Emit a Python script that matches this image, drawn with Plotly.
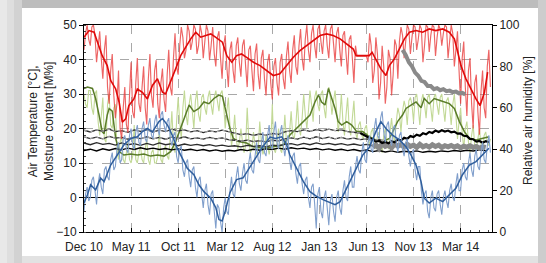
import plotly.graph_objects as go

# ---------------- data (x = days from the "Dec 10" tick) ----------------
tick_days = [0, 150, 300, 450, 600, 750, 900, 1050, 1200]
tick_labels = ["Dec 10", "May 11", "Oct 11", "Mar 12", "Aug 12", "Jan 13", "Jun 13", "Nov 13", "Mar 14"]

grid10 = list(range(0, 1300, 10))
mid10 = list(range(5, 1300, 10))

# relative humidity (right axis) - noisy daily readings
rh_light = [88, 100, 90, 100, 82, 97, 74, 95, 62, 86,
            55, 78, 45, 70, 48, 82, 55, 84, 58, 80,
            52, 86, 60, 83, 55, 79, 58, 88, 66, 96,
            76, 99, 84, 100, 88, 100, 86, 100, 84, 100,
            83, 99, 80, 97, 74, 95, 70, 92, 72, 94,
            75, 93, 70, 90, 68, 91, 69, 88, 66, 86,
            64, 84, 66, 86, 69, 92, 72, 95, 76, 98,
            78, 100, 82, 100, 84, 100, 86, 100, 84, 100,
            82, 99, 80, 97, 76, 95, 72, 85, 85, 85,
            85, 96, 72, 94, 64, 90, 62, 88, 66, 93,
            74, 99, 84, 100, 86, 100, 88, 100, 82, 100,
            87, 100, 85, 100, 90, 100, 84, 100, 80, 97,
            62, 92, 56, 84, 50, 76, 47, 78, 55, 88]
rh_light_mid = [96, 93, 99, 95, 90, 84, 88, 70, 78, 66,
                62, 50, 60, 52, 66, 58, 72, 62, 70, 60,
                74, 66, 78, 62, 72, 64, 76, 70, 84, 80,
                90, 94, 88, 97, 92, 98, 90, 96, 92, 97,
                90, 86, 94, 84, 90, 80, 88, 78, 90, 82,
                90, 80, 88, 78, 86, 76, 84, 74, 82, 72,
                80, 72, 82, 74, 85, 78, 88, 80, 90, 84,
                93, 88, 96, 90, 98, 92, 97, 90, 98, 91,
                96, 88, 95, 86, 93, 84, 90, 85, 85, 85,
                82, 90, 78, 86, 72, 80, 70, 84, 76, 90,
                92, 95, 92, 98, 94, 99, 93, 98, 90, 99,
                95, 99, 94, 98, 96, 99, 92, 96, 88, 78,
                84, 70, 78, 62, 72, 58, 68, 60, 80, 70]

rh_dark_days = [0, 16, 32, 48, 58, 74, 85, 101, 112, 122, 133, 143, 159, 170, 186, 202, 218, 234, 250, 260,
                276, 292, 308, 324, 340, 356, 372, 388, 404, 419, 441,
                455, 471, 486, 502, 518, 540, 561, 582, 603, 624, 646, 667, 688, 709, 731, 752, 773, 794, 816,
                837, 858,
                867, 909, 918, 930, 946, 962, 973, 989, 1005, 1021, 1037, 1058, 1079, 1100, 1121, 1143, 1164,
                1180, 1191, 1201, 1217, 1233, 1249, 1262, 1276, 1286]
rh_dark = [94.1, 97.3, 96.5, 90.1, 85.2, 80.4, 73.2, 69.1, 62.7, 53.1, 54.7, 61.1, 64.3, 69.1, 67.5, 64.3,
           70.8, 74, 67.5, 66.7, 72.4, 78.8, 85.2, 89.2, 93.3, 96.5, 94.1, 94.9, 95.7, 94.1, 91.7,
           85.2, 82, 85.2, 86, 84.4, 82, 80.4, 78, 75.6, 76.4, 80.4, 84.4, 87.6, 90.1, 92.5, 94.9, 95.7,
           94.9, 93.3, 90.9, 88.4,
           85.2, 85.2, 86.8, 83.6, 78.8, 75.6, 80.4, 83.6, 88.4, 93.3, 96.5, 97.3, 96.5, 98.1, 97.3, 98.1,
           96.5, 93.3, 86.8, 80.4, 74, 69.1, 64.3, 61.1, 67.5, 77.2]

rh_gray_days = list(range(1015, 1225, 10))
rh_gray = [88, 85.5, 82, 80, 77, 75.5, 73, 72.5, 70.5, 70.5, 69, 69.5, 68.5, 69, 68, 68.3, 67.5, 67.8,
           67, 67.2, 66.5]

# air temperature (left axis)
temp_light = [-4, 3, 0, 6, -2, 7, 1, 9, 5, 13,
              9, 16, 11, 18, 13, 20, 14, 21, 15, 22,
              16, 23, 17, 24, 18, 25, 19, 23, 15, 19,
              10, 15, 6, 11, 3, 9, 0, 6, -3, 4,
              -5, 2, -9, -3, -10, 0, -5, 6, 0, 9,
              2, 10, 4, 13, 7, 16, 10, 19, 12, 21,
              14, 22, 14, 21, 12, 18, 8, 13, 4, 10,
              1, 6, -3, 4, -9, 3, -6, 2, -8, 1,
              -7, 2, -5, 5, -1, 9, 3, 12, 7, 16,
              10, 18, 13, 23, 17, 25, 16, 22, 15, 21,
              13, 19, 12, 17, 9, 14, 5, 9, -2, 2,
              -6, 2, -4, 2, -5, 2, -3, 4, -1, 7,
              2, 10, 5, 13, 6, 14, 8, 16, 10, 18]
temp_light_mid = [1, -1, 5, 1, 4, 3, 8, 6, 11, 8,
                  14, 10, 17, 14, 18, 15, 19, 16, 20, 17,
                  21, 18, 22, 20, 24, 21, 22, 17, 18, 12,
                  14, 8, 10, 6, 8, 3, 5, 1, 2, -2,
                  1, -4, -2, -7, -3, -4, 2, 1, 6, 4,
                  7, 5, 10, 8, 12, 11, 15, 13, 18, 15,
                  19, 16, 19, 15, 16, 11, 12, 7, 9, 4,
                  5, 0, 3, -2, 1, -4, 0, -3, -1, -4,
                  0, -3, 2, 0, 6, 3, 9, 8, 13, 11,
                  16, 14, 20, 18, 23, 19, 21, 17, 20, 16,
                  18, 14, 16, 12, 13, 8, 9, 2, 1, -4,
                  0, -3, 1, -2, 0, -1, 2, 0, 4, 2,
                  8, 6, 10, 8, 12, 9, 13, 11, 15, 13]

temp_dark_days = [0, 11, 21, 37, 53, 64, 85, 106, 127, 149, 170, 186, 202, 218, 239, 250, 266, 281, 297, 313,
                  329, 350, 366, 382, 404, 420, 430, 440, 449, 465, 486, 507, 529, 550, 570, 593, 610, 630,
                  646, 656, 678, 699, 720, 741, 763, 784, 800, 816, 832, 848, 869, 888, 909, 930, 946, 962,
                  983, 1005, 1026, 1042, 1058, 1074, 1084, 1100, 1121, 1143, 1164, 1185, 1206, 1228, 1249,
                  1270, 1290]
temp_dark = [-1.6, 0.8, 3.7, 2.2, 5.6, 4.6, 9.4, 12.3, 15.2, 17.1, 17.6, 19.1, 20, 19, 22, 22.9, 21, 18.1,
             14.3, 11.4, 8.5, 6.6, 3.7, 1.7, -0.2, -3, -6.4, -6.8, -4.3, 1.4, 5.2, 5.7, 9, 11.9, 14.8, 17.5,
             17.1, 17.6, 15.2, 12.3, 8.5, 4.6, 1.7, 0.3, -0.7, -1.6, -2.1, -1.2, 1.7, 4.6, 8.5, 12.3, 14.5,
             19.1, 22, 20, 18.1, 16.7, 14.7, 12.3, 9.4, 4.6, -0.2, -1.6, -0.2, -1.2, 0.8, 2.7, 6.6, 9.4,
             10.4, 12.3, 14.3]

# green series (left axis)
green_light = [30, 26, 31, 24, 31, 18, 29, 16, 30, 20,
               27, 11, 18, 10, 16, 10, 21, 10, 15, 10,
               17, 9.5, 14, 10, 20, 10, 15, 11, 25, 13,
               29, 17, 31, 21, 30, 20, 31, 22, 30, 24,
               31, 24, 31, 25, 31, 20, 29, 15, 24, 14,
               20, 13, 26, 13, 19, 12.5, 22, 12.5, 18, 12.5,
               27, 13, 20, 13, 24, 15, 25, 17, 28, 18,
               30, 20, 31, 22, 31, 25, 31, 23, 32, 24,
               31, 19, 30, 18, 29, 18, 28, 17, 22, 17,
               21, 15, 20, 14, 19, 13, 20, 14, 23, 16,
               26, 19, 28, 21, 29, 22, 30, 21, 30, 23,
               30, 22, 30, 24, 30, 22, 29, 21, 30, 17,
               26, 14, 22, 13, 21, 13, 20, 14, 19, 15]
green_light_mid = [27, 31, 26, 30, 22, 24, 17, 27, 21, 26,
                   14, 16, 11, 13, 11, 12, 11, 13, 11, 14,
                   11, 13, 10, 12, 11, 14, 12, 18, 15, 22,
                   22, 26, 24, 27, 25, 28, 24, 29, 26, 29,
                   27, 29, 28, 30, 27, 25, 21, 18, 17, 16,
                   16, 15, 17, 14, 15, 14, 16, 14, 15, 15,
                   14, 16, 14, 17, 16, 19, 18, 21, 20, 23,
                   24, 25, 27, 29, 27, 30, 26, 30, 29, 28,
                   25, 23, 22, 24, 20, 23, 19, 21, 18, 20,
                   17, 19, 16, 18, 15, 18, 16, 19, 18, 22,
                   24, 25, 26, 28, 27, 29, 26, 28, 27, 29,
                   26, 29, 27, 29, 26, 28, 26, 27, 24, 22,
                   19, 20, 16, 18, 15, 17, 15, 18, 16, 17]

green_dark_days = [0, 11, 27, 37, 48, 58, 64, 74, 80, 90, 101, 112, 127, 149, 170, 191, 212, 234, 255, 276,
                   292, 308, 324, 335, 350, 366, 382, 398, 414, 430, 441,
                   455, 465, 476, 492, 518, 540, 571, 603, 635, 656, 678, 699, 720, 736, 747, 757, 768, 779,
                   789, 800, 810, 821, 837, 853, 869,
                   888, 909, 930, 952, 973, 989, 999, 1015, 1026, 1042, 1058, 1074, 1084, 1100, 1116, 1132,
                   1148, 1164, 1180, 1196, 1212, 1228, 1249, 1270, 1291]
green_dark = [31.6, 32, 31.6, 28.7, 23.9, 19.1, 18.5, 23.9, 25.8, 25, 17.1, 13.3, 12.3, 12.6, 12.3, 12.6, 12,
              12.3, 12, 13.3, 16.2, 20, 23.9, 26.8, 24.9, 25.8, 27.7, 27.2, 28.7, 29.7, 29.3,
              23.9, 20, 17.1, 16.2, 15.8, 14.7, 14.3, 14.8, 15.2, 18.1, 20, 22, 23.9, 27.7, 29.7, 27.7, 26.8,
              31.6, 28.7, 25.8, 22, 21, 22, 21, 19.1,
              19.1, 17.6, 16.7, 16.2, 17.1, 20, 22, 23.9, 25.8, 26.8, 27.7, 26, 28.7, 27.2, 28.7, 28.2, 27.7,
              27.2, 25.8, 22, 19.1, 17.1, 16.7, 17.1, 17.6]

# moisture content lines (left axis)
mc1_days = list(range(0, 900, 20))
mc1 = [19.5, 19.0, 19.6, 19.2, 19.8, 19.1, 19.4, 18.9, 19.6, 19.2, 19.7, 19.0, 19.5, 19.1, 19.8, 19.3, 19.6,
       19.0, 19.4, 18.8, 19.3, 19.0, 19.5, 19.1, 18.6, 18.2, 18.5, 18.0, 18.4, 18.1, 18.6, 18.3, 19.0, 19.4,
       19.1, 19.6, 19.2, 19.7, 19.3, 19.8, 19.4, 19.6, 19.1, 18.9, 18.7]
mc2_days = list(range(0, 980, 20))
mc2 = [17.6, 17.1, 17.5, 17.0, 17.7, 17.2, 17.4, 16.9, 17.5, 17.1,
       17.6, 17.0, 17.4, 16.9, 17.5, 17.1, 17.6, 17.0, 17.3, 16.9,
       17.4, 17.0, 17.3, 16.8, 16.6, 16.3, 16.6, 16.2, 16.5, 16.1,
       16.6, 16.4, 17.0, 17.3, 16.9, 17.5, 17.0, 17.6, 17.1, 17.5,
       17.0, 17.4, 16.9, 17.2, 16.8, 17.0, 16.6, 16.8, 16.4]
mc3 = [15.8, 15.3, 15.9, 15.4, 15.7, 15.2, 15.8, 15.3, 15.6, 15.1,
       15.7, 15.2, 15.8, 15.3, 15.6, 15.0, 15.5, 15.1, 15.4, 15.0,
       15.3, 14.9, 15.2, 14.8, 15.0, 14.7, 15.1, 14.8, 15.0, 14.7,
       15.2, 15.0, 15.4, 15.6, 15.2, 15.7, 15.3, 15.8, 15.4, 15.7,
       15.3, 15.6, 15.2, 15.5, 15.1, 15.4, 15.0, 15.2, 14.9]
mc4_days = list(range(0, 1300, 20))
mc4 = [13.6, 14.0, 13.5, 14.1, 13.7, 14.2, 13.8, 14.3, 13.9, 14.4,
       14.0, 14.3, 13.9, 14.2, 13.8, 14.1, 13.7, 14.0, 13.6, 13.9,
       13.5, 13.8, 13.4, 13.7, 13.5, 13.9, 13.6, 14.0, 13.7, 14.1,
       13.9, 14.3, 14.0, 14.4, 14.1, 14.3, 13.9, 14.2, 13.8, 14.1,
       13.7, 14.0, 13.6, 13.9, 13.5, 13.8, 13.3, 13.6, 13.2, 13.5,
       13.1, 13.4, 13.2, 13.5, 13.1, 13.4, 13.2, 13.5, 13.3, 13.6,
       13.4, 13.7, 13.5, 13.8, 13.6]
mc5_days = list(range(880, 1300, 10))
mc5 = [18.7, 18.2, 17.9, 17.2, 16.9, 16.3, 16.4, 15.8, 16.1, 15.7, 16.3, 16.0, 16.8, 16.5, 17.3, 17.0,
       17.8, 17.5, 18.2, 17.9, 18.6, 18.3, 19.0, 18.7, 19.4, 19.0, 19.5, 19.1, 19.4, 18.9, 19.1, 18.5,
       18.6, 17.9, 17.8, 17.0, 16.9, 16.2, 16.4, 15.9, 16.3, 16.0]
mc_gray_days = list(range(920, 1290, 10))
mc_gray = [14.5, 15.3, 14.2, 15.6, 14.8, 15.2, 14.4, 15.5, 14.9, 15.3,
           14.6, 15.4, 14.8, 15.2, 14.5, 15.4, 14.7, 15.1, 14.6, 15.3,
           14.8, 15.2, 14.5, 15.0, 14.7, 15.1, 14.6, 15.0, 14.4, 14.9,
           14.6, 15.0, 14.5, 14.8, 14.3, 14.7, 14.5]


def merge(days_a, vals_a, days_b, vals_b):
    pts = sorted(zip(list(days_a) + list(days_b), list(vals_a) + list(vals_b)))
    return [p[0] for p in pts], [p[1] for p in pts]


rh_x, rh_y = merge(grid10, rh_light, mid10, rh_light_mid)
tl_x, tl_y = merge(grid10, temp_light, mid10, temp_light_mid)
gl_x, gl_y = merge(grid10, green_light, mid10, green_light_mid)

# ---------------- figure ----------------
FONT = "Liberation Sans, Arial, sans-serif"
fig = go.Figure()


def add(x, y, color, width, yaxis="y", dash=None):
    fig.add_trace(go.Scatter(x=x, y=y, mode="lines", yaxis=yaxis,
                             line=dict(color=color, width=width, dash=dash),
                             hoverinfo="skip", showlegend=False))


add(gl_x, gl_y, "#c2d996", 1.1)
add(green_dark_days, green_dark, "#5a7c2a", 1.5)
add(mc1_days, mc1, "#2b2b2b", 1.3)
add(mc2_days, mc2, "#2b2b2b", 1.3)
add(mc2_days, mc3, "#2b2b2b", 1.3)
add(mc4_days, mc4, "#000000", 1.4)
add(mc_gray_days, mc_gray, "#8a8a8a", 5)
add(mc5_days, mc5, "#000000", 2.2)
add(mc1_days, mc1, "#d8d8d8", 0.8, dash="dot")
add(mc2_days, mc2, "#d8d8d8", 0.8, dash="dot")
add(tl_x, tl_y, "#809fcc", 1.1)
add(temp_dark_days, temp_dark, "#2f5e9c", 1.5)
add(rh_x, rh_y, "rgba(232,56,56,0.78)", 1.15, yaxis="y2")
add(rh_gray_days, rh_gray, "#8a8a8a", 4, yaxis="y2")
add(rh_dark_days, rh_dark, "#e00a0a", 1.6, yaxis="y2")

L, R, T, B = 84, 492, 25, 232


def px(xp):
    return (xp - L) / (R - L)


def py(yp):
    return (B - yp) / (B - T)


def rect(x0, y0, x1, y1, color):
    return dict(type="rect", xref="paper", yref="paper", x0=px(x0), x1=px(x1), y0=py(y1), y1=py(y0),
                fillcolor=color, line=dict(width=0), layer="below")


shapes = [
    rect(0, 0, 546, 263, "#d8d8d8"),
    rect(0, 0, 7, 263, "#e8e8e8"),
    rect(7, 0, 14, 263, "#dedede"),
    rect(14, 0, 22, 263, "#d2d2d2"),
    rect(22, 0, 546, 8, "#bdbdbd"),
    rect(538, 0, 546, 263, "#cdcdcd"),
    rect(22, 256, 538, 263, "#e2e2e2"),
    rect(22, 8, 538, 256, "#ffffff"),
]

axis_font = dict(family=FONT, size=12, color="#222222")
fig.update_layout(
    width=546, height=263,
    margin=dict(l=L, r=546 - R, t=T, b=263 - B, autoexpand=False),
    paper_bgcolor="#d8d8d8", plot_bgcolor="rgba(0,0,0,0)",
    font=axis_font,
    shapes=shapes,
    xaxis=dict(range=[0, 1300], tickvals=tick_days, ticktext=tick_labels, tickfont=axis_font,
               showgrid=True, gridcolor="#a8a8a8", griddash="dash", gridwidth=1,
               showline=True, linecolor="#000000", linewidth=1, mirror=True,
               ticks="inside", ticklen=4, tickcolor="#000000", zeroline=False, ticklabelstandoff=4,
               minor=dict(ticks="inside", ticklen=2, dtick=30, tickcolor="#444444", showgrid=False)),
    yaxis=dict(range=[-10, 50], dtick=10, tickfont=axis_font,
               showgrid=True, gridcolor="#a8a8a8", griddash="dash", gridwidth=1,
               showline=True, linecolor="#000000", linewidth=1, mirror=True,
               ticks="outside", ticklen=4, tickcolor="#000000",
               zeroline=True, zerolinecolor="#000000", zerolinewidth=1.3,
               minor=dict(ticks="inside", ticklen=2, dtick=2, tickcolor="#444444", showgrid=False)),
    yaxis2=dict(range=[0, 100], dtick=20, overlaying="y", side="right", tickfont=axis_font,
                showgrid=False, zeroline=False, showline=True, linecolor="#000000", linewidth=1,
                ticks="outside", ticklen=4, tickcolor="#000000"),
    annotations=[
        dict(text="Air Temperature [°C],<br>Moisture content [M%]", xref="paper", yref="paper",
             x=px(41), y=py(122), textangle=-90, showarrow=False, xanchor="center", yanchor="middle",
             font=dict(family=FONT, size=12, color="#222222")),
        dict(text="Relative air humidity [%]", xref="paper", yref="paper",
             x=px(528), y=py(121), textangle=-90, showarrow=False, xanchor="center", yanchor="middle",
             font=dict(family=FONT, size=12, color="#222222")),
    ],
)

fig.write_html("out.html", config={"displayModeBar": False},
               post_script="document.body.style.margin='0';document.body.style.padding='0';")
